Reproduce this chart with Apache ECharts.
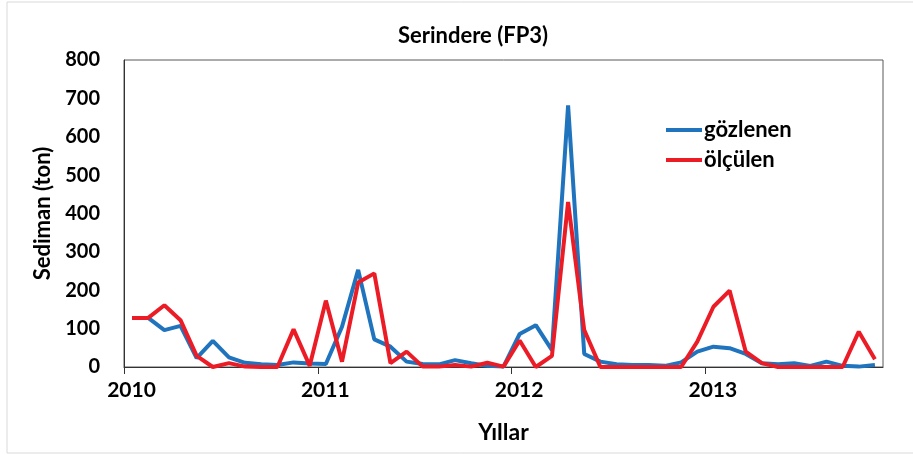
<!DOCTYPE html>
<html>
<head>
<meta charset="utf-8">
<title>Serindere (FP3)</title>
<script src="https://cdn.jsdelivr.net/npm/echarts@6/dist/echarts.min.js"></script>
<style>
  html, body { margin: 0; padding: 0; background: #fff; }
  #chart { width: 913px; height: 455px; }
</style>
</head>
<body>
<div id="chart"></div>
<script>
// aylık değerler, Ocak 2010 - Kasım 2013
const yearTicks = [2010, 2011, 2012, 2013]
const yTicks = [0, 100, 200, 300, 400, 500, 600, 700, 800]

const gozlenen = [
  128, 128, 96, 107, 23, 68, 25, 11, 7, 5, 12, 9,
  8, 105, 253, 72, 53, 14, 8, 7, 18, 10, 3, 1,
  86, 109, 44, 682, 34, 14, 7, 5, 5, 3, 12, 40,
  53, 49, 34, 10, 7, 10, 3, 14, 3, 1, 5
]
const olculen = [
  128, 128, 161, 122, 29, 0, 10, 1, 0, 0, 98, 3,
  173, 14, 220, 244, 10, 40, 1, 1, 5, 1, 11, 1,
  69, 0, 29, 430, 96, 0, 0, 0, 0, 0, 0, 66,
  157, 199, 40, 10, 0, 0, 0, 0, 0, 92, 20
]

const font = 'Lato, "Open Sans", sans-serif'
const monthTicks = yearTicks.map((y, i) => i * 12)

// her ay, ayın ortasına çizilir
function toPoints (values) {
  return values.map((v, i) => [i + 0.5, v])
}

const chart = echarts.init(document.getElementById('chart'))
chart.setOption({
  animation: false,
  backgroundColor: '#fff',
  title: {
    text: 'Serindere (FP3)',
    left: 468,
    textAlign: 'center',
    top: 20,
    textStyle: { fontFamily: font, fontSize: 22, fontWeight: 'bold', color: '#000' }
  },
  graphic: [{
    type: 'rect',
    shape: { x: 7, y: 2, width: 930, height: 451 },
    style: { fill: 'none', stroke: '#d9d9d9', lineWidth: 1 },
    silent: true
  }],
  legend: {
    orient: 'vertical',
    left: 661,
    top: 114,
    itemWidth: 36,
    itemHeight: 4,
    itemGap: 8,
    icon: 'rect',
    textStyle: { fontFamily: font, fontSize: 22, lineHeight: 22, fontWeight: 'bold', color: '#000', padding: [0, 0, 0, -3] },
    data: ['gözlenen', 'ölçülen']
  },
  grid: {
    left: 124,
    right: 30,
    top: 60,
    bottom: 88,
    show: true,
    borderColor: '#595959',
    borderWidth: 1
  },
  xAxis: {
    type: 'value',
    min: 0,
    max: gozlenen.length,
    interval: 12,
    name: 'Yıllar',
    nameLocation: 'middle',
    nameGap: 54,
    nameTextStyle: { fontFamily: font, fontSize: 23, fontWeight: 'bold', color: '#000' },
    splitLine: { show: false },
    axisLine: { lineStyle: { color: '#333', width: 1 } },
    axisTick: { show: true, inside: false, length: 7, lineStyle: { color: '#333' }, customValues: monthTicks },
    axisLabel: {
      customValues: monthTicks,
      formatter: v => String(yearTicks[Math.round(v / 12)]),
      margin: 13,
      padding: [0, 0, 0, 15],
      fontFamily: font,
      fontSize: 21,
      fontWeight: 'bold',
      color: '#000'
    }
  },
  yAxis: {
    type: 'value',
    min: yTicks[0],
    max: yTicks[yTicks.length - 1],
    interval: 100,
    name: 'Sediman (ton)',
    nameLocation: 'middle',
    nameGap: 68,
    nameTextStyle: { fontFamily: font, fontSize: 22, fontWeight: 'bold', color: '#000' },
    splitLine: { show: false },
    axisLine: { show: true, lineStyle: { color: '#333', width: 1 } },
    axisTick: { show: false },
    axisLabel: { margin: 24, fontFamily: font, fontSize: 20, fontWeight: 'bold', color: '#000' }
  },
  series: [
    {
      name: 'gözlenen',
      type: 'line',
      data: toPoints(gozlenen),
      symbol: 'none',
      color: '#1F74BD',
      lineStyle: { width: 4, color: '#1F74BD' }
    },
    {
      name: 'ölçülen',
      type: 'line',
      data: toPoints(olculen),
      symbol: 'none',
      color: '#EB1C26',
      lineStyle: { width: 4, color: '#EB1C26' }
    }
  ]
})
</script>
</body>
</html>
